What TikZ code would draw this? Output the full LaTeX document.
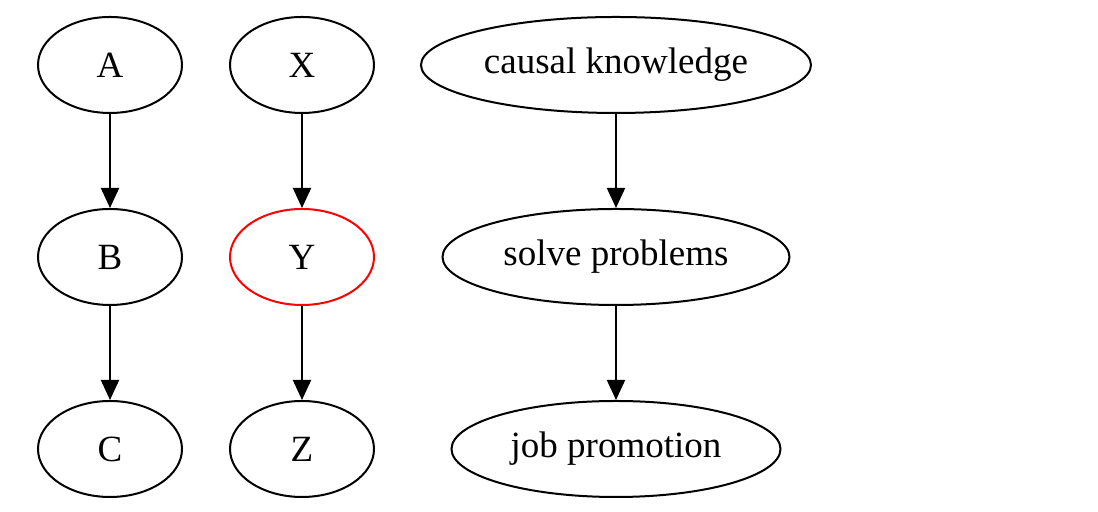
\documentclass[tikz,border=0pt]{standalone}
\usepackage{fontspec}
\setmainfont{Liberation Serif}
\usepackage{xcolor}
\definecolor{rougey}{HTML}{FF0000}
\usetikzlibrary{positioning,arrows.meta,shapes.geometric}

\tikzset{
  noeud/.style={draw,ellipse,line width=1pt,inner sep=0pt,
    minimum width=72pt,minimum height=48pt},
  fleche/.style={-{Triangle[length=10pt,width=9pt]},line width=1pt}
}

\begin{document}
\begin{tikzpicture}[font=\fontsize{18.5}{22}\selectfont,node distance=47pt]
\useasboundingbox (0,0) rectangle (549pt,256pt);
% première colonne
\node[noeud] (A) at (55pt,223.5pt) {A};
\node[noeud,below=of A] (B) {B};
\node[noeud,below=of B] (C) {C};
% deuxième colonne, Y en rouge
\node[noeud] (X) at (151pt,223.5pt) {X};
\node[noeud,draw=rougey,below=of X] (Y) {Y};
\node[noeud,below=of Y] (Z) {Z};
% troisième colonne
\node[noeud,minimum width=195pt] (savoir) at (308pt,223.5pt) {causal knowledge};
\node[noeud,minimum width=173.5pt,below=of savoir] (resoudre) {solve problems};
\node[noeud,minimum width=164.5pt,below=of resoudre] (promo) {job promotion};
% liens
\draw[fleche] (A) -- (B);
\draw[fleche] (B) -- (C);
\draw[fleche] (X) -- (Y);
\draw[fleche] (Y) -- (Z);
\draw[fleche] (savoir) -- (resoudre);
\draw[fleche] (resoudre) -- (promo);
\end{tikzpicture}
\end{document}
